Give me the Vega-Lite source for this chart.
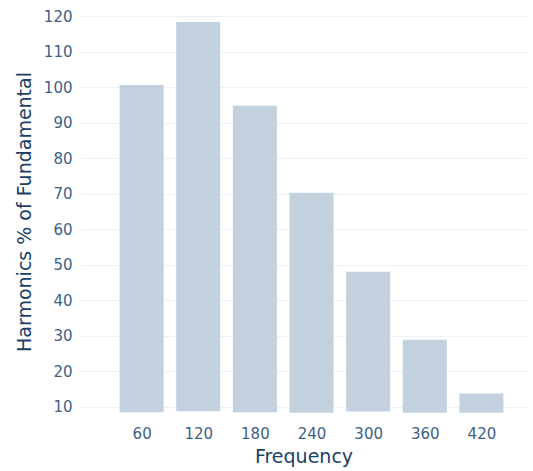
{
  "$schema": "https://vega.github.io/schema/vega-lite/v6.json",
  "autosize": "none",
  "width": 447,
  "height": 403,
  "padding": {"left": 80, "top": 10, "right": 6, "bottom": 58},
  "background": "white",
  "config": {
    "view": {"stroke": null},
    "font": "DejaVu Sans"
  },
  "data": {
    "values": [
      {"frequency": 60, "value": 100.6, "base": 8.4},
      {"frequency": 120, "value": 118.3, "base": 8.7},
      {"frequency": 180, "value": 94.7, "base": 8.4},
      {"frequency": 240, "value": 70.2, "base": 8.3},
      {"frequency": 300, "value": 48.0, "base": 8.6},
      {"frequency": 360, "value": 28.8, "base": 8.3},
      {"frequency": 420, "value": 13.7, "base": 8.3}
    ]
  },
  "mark": {"type": "bar", "size": 44, "color": "#c3d0dd"},
  "encoding": {
    "x": {
      "field": "frequency",
      "type": "quantitative",
      "scale": {"domain": [0, 463], "nice": false, "zero": false},
      "axis": {
        "values": [60, 120, 180, 240, 300, 360, 420],
        "grid": false,
        "domain": false,
        "ticks": false,
        "labelPadding": 13,
        "labelFontSize": 15,
        "labelColor": "#3d6185",
        "title": "Frequency",
        "titleFontSize": 19,
        "titleFontWeight": "normal",
        "titleColor": "#1b4166",
        "titlePadding": 6
      }
    },
    "y": {
      "field": "value",
      "type": "quantitative",
      "scale": {"domain": [8.2, 121.7], "nice": false, "zero": false},
      "axis": {
        "values": [10, 20, 30, 40, 50, 60, 70, 80, 90, 100, 110, 120],
        "grid": true,
        "gridColor": "#edf1f5",
        "gridWidth": 1,
        "domain": false,
        "ticks": false,
        "labelPadding": 8,
        "labelFontSize": 15,
        "labelColor": "#3d6185",
        "title": "Harmonics % of Fundamental",
        "titleFontSize": 19,
        "titleFontWeight": "normal",
        "titleColor": "#1b4166",
        "titlePadding": 9
      }
    },
    "y2": {"field": "base"}
  }
}
